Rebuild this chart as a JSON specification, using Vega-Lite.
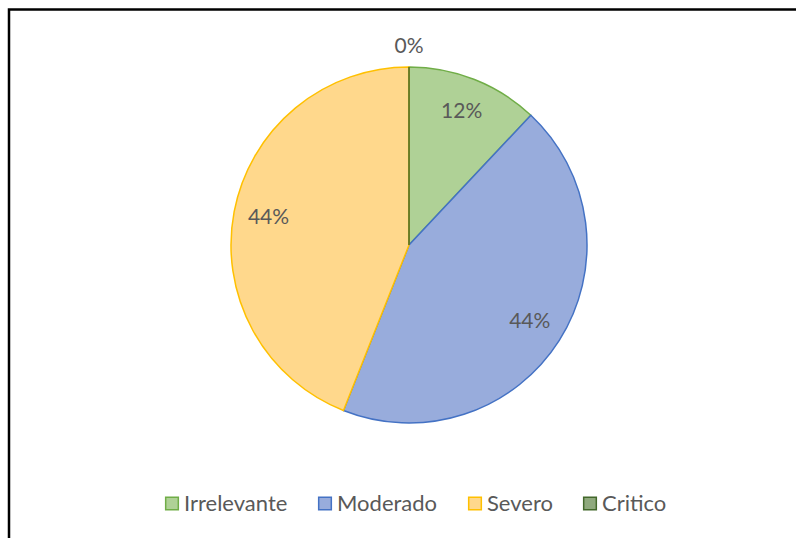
{
  "$schema": "https://vega.github.io/schema/vega-lite/v6.json",
  "width": 800,
  "height": 540,
  "autosize": {"type": "none"},
  "padding": {"left": 9, "top": 9.5, "right": 0, "bottom": 0},
  "background": "#ffffff",
  "view": {"stroke": "#000000", "strokeWidth": 2.5},
  "config": {
    "font": "Lato"
  },
  "data": {
    "values": [
      {"Categoria": "Irrelevante", "Porcentaje": 0.12},
      {"Categoria": "Moderado", "Porcentaje": 0.44},
      {"Categoria": "Severo", "Porcentaje": 0.44},
      {"Categoria": "Critico", "Porcentaje": 0.0}
    ]
  },
  "layer": [
    {
      "mark": {"type": "arc", "radius": 178, "yOffset": -34.5, "strokeWidth": 1.5},
      "encoding": {
        "theta": {"field": "Porcentaje", "type": "quantitative", "stack": true},
        "order": {"field": "Categoria", "type": "nominal", "sort": "ascending"},
        "fill": {
          "field": "Categoria",
          "type": "nominal",
          "scale": {
            "domain": ["Irrelevante", "Moderado", "Severo", "Critico"],
            "range": ["#afd196", "#98acdc", "#ffd88c", "#8fa97d"]
          },
          "legend": {
            "title": null,
            "orient": "none",
            "direction": "horizontal",
            "legendX": 152,
            "legendY": 483,
            "symbolType": "square",
            "symbolSize": 160,
            "symbolStrokeWidth": 1.5,
            "labelFontSize": 22,
            "labelColor": "#595959",
            "labelFont": "Lato",
            "labelOffset": 1,
            "columnPadding": 26
          }
        },
        "stroke": {
          "field": "Categoria",
          "type": "nominal",
          "scale": {
            "domain": ["Irrelevante", "Moderado", "Severo", "Critico"],
            "range": ["#70ad47", "#4472c4", "#ffc000", "#43682b"]
          },
          "legend": {
            "title": null,
            "orient": "none",
            "direction": "horizontal",
            "legendX": 152,
            "legendY": 483,
            "symbolType": "square",
            "symbolSize": 160,
            "symbolStrokeWidth": 1.5,
            "labelFontSize": 22,
            "labelColor": "#595959",
            "labelFont": "Lato",
            "labelOffset": 1,
            "columnPadding": 26
          }
        }
      }
    },
    {
      "transform": [{"filter": "datum.Porcentaje > 0"}],
      "mark": {"type": "text", "radius": 143, "yOffset": -34.5, "fontSize": 21, "color": "#595959", "font": "Lato"},
      "encoding": {
        "theta": {"field": "Porcentaje", "type": "quantitative", "stack": true},
        "order": {"field": "Categoria", "type": "nominal", "sort": "ascending"},
        "detail": {"field": "Categoria", "type": "nominal"},
        "text": {"field": "Porcentaje", "type": "quantitative", "format": ".0%"}
      }
    },
    {
      "transform": [{"filter": "datum.Porcentaje == 0"}],
      "mark": {"type": "text", "radius": 198, "yOffset": -34.5, "fontSize": 21, "color": "#595959", "font": "Lato"},
      "encoding": {
        "theta": {"field": "Porcentaje", "type": "quantitative", "stack": true},
        "detail": {"field": "Categoria", "type": "nominal"},
        "text": {"field": "Porcentaje", "type": "quantitative", "format": ".0%"}
      }
    }
  ]
}
